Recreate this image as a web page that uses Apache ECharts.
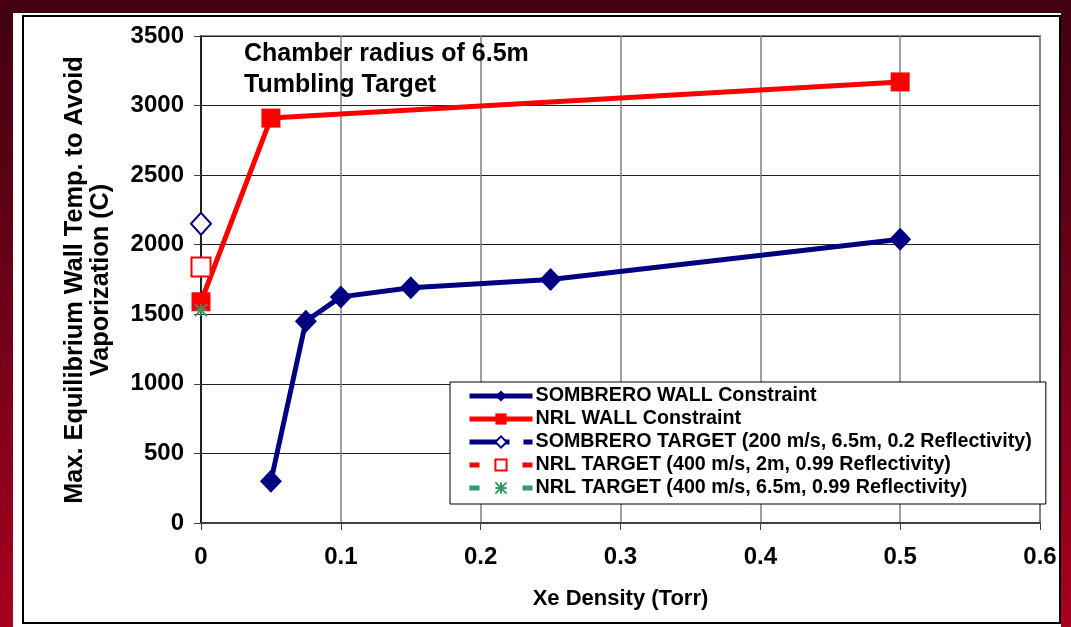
<!DOCTYPE html>
<html>
<head>
<meta charset="utf-8">
<script src="https://cdn.jsdelivr.net/npm/echarts@6/dist/echarts.min.js"></script>
<style>
  html, body { margin:0; padding:0; width:1071px; height:627px; overflow:hidden; }
  body { background: linear-gradient(to bottom, #40000f 0%, #6a0018 45%, #a8001f 100%); position:relative; }
  #panel { position:absolute; left:13px; top:13px; width:1048px; height:614px; background:#fff; }
  #frame { position:absolute; left:22px; top:15px; width:1035px; height:605px; border:2px solid #000; }
  #chart { position:absolute; left:0; top:0; width:1071px; height:627px; }
</style>
</head>
<body>
<div id="panel"></div>
<div id="frame"></div>
<div id="chart"></div>
<script>
// ---- Data ----
const xTicks = [0, 0.1, 0.2, 0.3, 0.4, 0.5, 0.6];
const yTicks = [0, 500, 1000, 1500, 2000, 2500, 3000, 3500];

const sombreroWallX = [0.05, 0.075, 0.1, 0.15, 0.25, 0.5];
const sombreroWallY = [300, 1450, 1625, 1690, 1750, 2040];

const nrlWallX = [0, 0.05, 0.5];
const nrlWallY = [1590, 2910, 3170];

const sombreroTargetX = [0];
const sombreroTargetY = [2150];

const nrlTarget2mX = [0];
const nrlTarget2mY = [1840];

const nrlTarget65mX = [0];
const nrlTarget65mY = [1530];

const seriesNames = [
  'SOMBRERO WALL Constraint',
  'NRL WALL Constraint',
  'SOMBRERO TARGET (200 m/s, 6.5m, 0.2 Reflectivity)',
  'NRL TARGET (400 m/s, 2m, 0.99 Reflectivity)',
  'NRL TARGET (400 m/s, 6.5m, 0.99 Reflectivity)'
];

function pairs(xs, ys) { return xs.map((x, i) => [x, ys[i]]); }

const FONT = '"Liberation Sans", Arial, sans-serif';
const NAVY = '#000080';
const RED = '#ff0000';
const GREEN = '#339966';

const chart = echarts.init(document.getElementById('chart'), null, { renderer: 'canvas' });

const option = {
  backgroundColor: 'transparent',
  animation: false,
  grid: {
    left: 201, right: 31, top: 36, bottom: 104,
    show: true, borderColor: '#888', borderWidth: 2, backgroundColor: 'transparent'
  },
  xAxis: {
    type: 'value',
    min: xTicks[0], max: xTicks[xTicks.length - 1], interval: 0.1,
    axisLine: { show: true, onZero: false, lineStyle: { color: '#404040', width: 2 } },
    axisTick: { show: true, inside: false, length: 7, lineStyle: { color: '#404040', width: 1 } },
    splitLine: { show: true, lineStyle: { color: '#808080', width: 1.5 } },
    axisLabel: { margin: 22, fontSize: 24, fontWeight: 'bold', fontFamily: FONT, color: '#000',
      formatter: v => String(Math.round(v * 10) / 10) },
    name: 'Xe Density (Torr)',
    nameLocation: 'middle', nameGap: 65,
    nameTextStyle: { fontSize: 22, fontWeight: 'bold', fontFamily: FONT, color: '#000' }
  },
  yAxis: {
    type: 'value',
    min: yTicks[0], max: yTicks[yTicks.length - 1], interval: 500,
    axisLine: { show: true, onZero: false, lineStyle: { color: '#000', width: 1.5 } },
    axisTick: { show: true, inside: false, length: 7, lineStyle: { color: '#404040', width: 1 } },
    splitLine: { show: true, lineStyle: { color: '#222', width: 1.2 } },
    axisLabel: { margin: 17, fontSize: 24, fontWeight: 'bold', fontFamily: FONT, color: '#000',
      formatter: v => String(v) }
  },
  legend: {
    orient: 'vertical',
    left: 450, top: 382,
    padding: [4, 14, 6, 17],
    backgroundColor: '#fff',
    borderColor: '#000', borderWidth: 1, borderRadius: 0,
    itemWidth: 63, itemHeight: 14, itemGap: 3,
    textStyle: { fontSize: 19.7, fontWeight: 'bold', fontFamily: FONT, color: '#000', lineHeight: 20, padding: [0,0,0,-2] },
    data: [
      { name: seriesNames[0], lineStyle: { width: 5 } },
      { name: seriesNames[1], lineStyle: { width: 5 } },
      { name: seriesNames[2], lineStyle: { width: 5, type: [40, 14] } },
      { name: seriesNames[3], lineStyle: { width: 5, type: [10, 43] } },
      { name: seriesNames[4], lineStyle: { width: 5, type: [10, 43] } }
    ]
  },
  graphic: [
    {
      type: 'text', left: 244, top: 39, z: 50,
      style: { text: 'Chamber radius of 6.5m\nTumbling Target', font: 'bold 25px ' + FONT, fill: '#000', lineHeight: 31 }
    },
    {
      type: 'text', x: 88, y: 280, rotation: Math.PI / 2, z: 50,
      style: { text: 'Max. Equilibrium Wall Temp. to Avoid\nVaporization (C)', font: 'bold 25.3px ' + FONT, fill: '#000',
        lineHeight: 26, align: 'center', verticalAlign: 'middle' }
    }
  ],
  series: [
    {
      name: seriesNames[0], type: 'line',
      data: pairs(sombreroWallX, sombreroWallY),
      symbol: 'diamond', symbolSize: [22, 23],
      lineStyle: { color: NAVY, width: 5 },
      itemStyle: { color: NAVY }, z: 3
    },
    {
      name: seriesNames[1], type: 'line',
      data: pairs(nrlWallX, nrlWallY),
      symbol: 'rect', symbolSize: [19, 19],
      lineStyle: { color: RED, width: 5 },
      itemStyle: { color: RED }, z: 4
    },
    {
      name: seriesNames[2], type: 'line',
      data: pairs(sombreroTargetX, sombreroTargetY),
      symbol: 'emptyDiamond', symbolSize: [20, 22],
      lineStyle: { color: NAVY, width: 5, type: [40, 14] },
      itemStyle: { color: NAVY, borderWidth: 1.5 }, z: 5
    },
    {
      name: seriesNames[3], type: 'line',
      data: pairs(nrlTarget2mX, nrlTarget2mY),
      symbol: 'emptyRect', symbolSize: [19, 19],
      lineStyle: { color: RED, width: 5, type: [10, 43] },
      itemStyle: { color: RED, borderWidth: 1.2 }, z: 5
    },
    {
      name: seriesNames[4], type: 'line',
      data: pairs(nrlTarget65mX, nrlTarget65mY),
      symbol: 'path://M0,0L10,10M10,0L0,10M5,0L5,10M0,5L10,5', symbolSize: [12, 12],
      lineStyle: { color: GREEN, width: 5, type: [10, 43] },
      itemStyle: { color: GREEN, borderColor: GREEN, borderWidth: 1.5 }, z: 6
    }
  ]
};
chart.setOption(option);
</script>
</body>
</html>
